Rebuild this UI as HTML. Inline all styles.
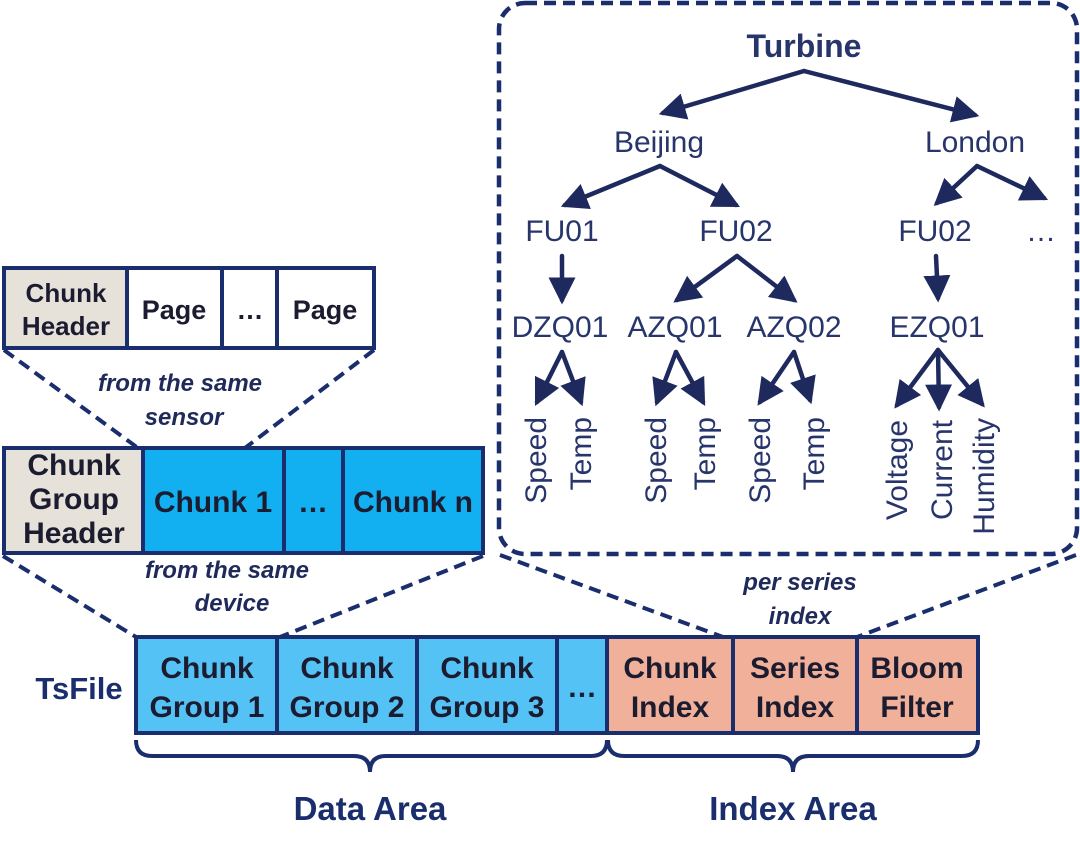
<!DOCTYPE html>
<html><head><meta charset="utf-8"><style>
html,body{margin:0;padding:0;background:#fff;}
svg{display:block;}
</style></head><body>
<svg width="1080" height="852" viewBox="0 0 1080 852" xmlns="http://www.w3.org/2000/svg">
<defs>
<marker id="ah" markerWidth="6" markerHeight="6" refX="5" refY="3" orient="auto" markerUnits="strokeWidth">
<path d="M0,0 L6,3 L0,6 Z" fill="#1e2a5e"/>
</marker>
</defs>
<g font-family="Liberation Sans, Arial, sans-serif">
<rect x="499" y="3" width="578" height="551" rx="26" fill="none" stroke="#1a2e6e" stroke-width="4.5" stroke-dasharray="12,7"/>

<g stroke="#1a2e6e" stroke-width="4" stroke-dasharray="12,7" fill="none">
<line x1="4" y1="350" x2="138" y2="448"/>
<line x1="374" y1="350" x2="245" y2="448"/>
<line x1="3" y1="556" x2="136" y2="637"/>
<line x1="483" y1="556" x2="280" y2="637"/>
<line x1="500" y1="555" x2="723" y2="637"/>
<line x1="1076" y1="555" x2="857" y2="637"/>
</g>

<g stroke="#1a2e6e" stroke-width="4">
<rect x="4" y="268" width="123" height="80" fill="#e6e2da"/>
<rect x="127" y="268" width="95" height="80" fill="#fff"/>
<rect x="222" y="268" width="55" height="80" fill="#fff"/>
<rect x="277" y="268" width="97" height="80" fill="#fff"/>
</g>
<g font-weight="bold" fill="#1c1c30" text-anchor="middle">
<text x="66" y="302" font-size="26">Chunk</text>
<text x="66" y="335" font-size="26">Header</text>
<text x="174" y="319" font-size="27">Page</text>
<text x="250" y="319" font-size="27">…</text>
<text x="325" y="319" font-size="27">Page</text>
</g>

<g stroke="#1a2e6e" stroke-width="4">
<rect x="4" y="448" width="139" height="105" fill="#e6e2da"/>
<rect x="143" y="448" width="141" height="105" fill="#12b0f0"/>
<rect x="284" y="448" width="59" height="105" fill="#12b0f0"/>
<rect x="343" y="448" width="140" height="105" fill="#12b0f0"/>
</g>
<g font-weight="bold" fill="#1c1c30" text-anchor="middle" font-size="30">
<text x="74" y="475">Chunk</text>
<text x="74" y="509">Group</text>
<text x="74" y="543">Header</text>
<text x="213" y="512">Chunk 1</text>
<text x="313" y="512">…</text>
<text x="413" y="512">Chunk n</text>
</g>

<g font-weight="bold" font-style="italic" fill="#1f2a5a" text-anchor="middle" font-size="24">
<text x="180" y="391">from the same</text>
<text x="184" y="425">sensor</text>
<text x="227" y="578">from the same</text>
<text x="232" y="611">device</text>
<text x="800" y="590">per series</text>
<text x="800" y="624">index</text>
</g>

<g stroke="#1a2e6e" stroke-width="4">
<rect x="136" y="637" width="141" height="96" fill="#55c2f5"/>
<rect x="277" y="637" width="140" height="96" fill="#55c2f5"/>
<rect x="417" y="637" width="140" height="96" fill="#55c2f5"/>
<rect x="557" y="637" width="50" height="96" fill="#55c2f5"/>
<rect x="607" y="637" width="126" height="96" fill="#f0b09a"/>
<rect x="733" y="637" width="124" height="96" fill="#f0b09a"/>
<rect x="857" y="637" width="121" height="96" fill="#f0b09a"/>
</g>
<g font-weight="bold" fill="#1c1c30" text-anchor="middle" font-size="30">
<text x="207" y="678">Chunk</text><text x="207" y="717">Group 1</text>
<text x="347" y="678">Chunk</text><text x="347" y="717">Group 2</text>
<text x="487" y="678">Chunk</text><text x="487" y="717">Group 3</text>
<text x="582" y="697">…</text>
<text x="670" y="678">Chunk</text><text x="670" y="717">Index</text>
<text x="795" y="678">Series</text><text x="795" y="717">Index</text>
<text x="917" y="678">Bloom</text><text x="917" y="717">Filter</text>
</g>
<text x="79" y="699" font-weight="bold" font-size="31" fill="#1a2e6e" text-anchor="middle">TsFile</text>

<g fill="none" stroke="#1a2e6e" stroke-width="4">
<path d="M136,740 Q136,756 152,756 L354,756 Q370,756 370,772 Q370,756 386,756 L591,756 Q607,756 607,740"/>
<path d="M608,740 Q608,756 624,756 L777,756 Q793,756 793,772 Q793,756 809,756 L962,756 Q978,756 978,740"/>
</g>
<g font-weight="bold" fill="#1a2e6e" text-anchor="middle" font-size="33">
<text x="370" y="820">Data Area</text>
<text x="793" y="820">Index Area</text>
</g>

<g fill="#27356b" text-anchor="middle" font-size="30">
<text x="804" y="57" font-weight="bold" font-size="32">Turbine</text>
<text x="659" y="152">Beijing</text>
<text x="975" y="152">London</text>
<text x="562" y="241">FU01</text>
<text x="736" y="241">FU02</text>
<text x="935" y="241">FU02</text>
<text x="1041" y="241">…</text>
<text x="560" y="337">DZQ01</text>
<text x="675" y="337">AZQ01</text>
<text x="794" y="337">AZQ02</text>
<text x="937" y="337">EZQ01</text>
</g>
<g fill="#27356b" text-anchor="end" font-size="30">
<text transform="translate(546,417) rotate(-90)">Speed</text>
<text transform="translate(591,417) rotate(-90)">Temp</text>
<text transform="translate(666,417) rotate(-90)">Speed</text>
<text transform="translate(715,417) rotate(-90)">Temp</text>
<text transform="translate(770,417) rotate(-90)">Speed</text>
<text transform="translate(824,417) rotate(-90)">Temp</text>
<text transform="translate(907,420) rotate(-90)">Voltage</text>
<text transform="translate(952,420) rotate(-90)">Current</text>
<text transform="translate(994,418) rotate(-90)">Humidity</text>
</g>
<g stroke="#1e2a5e" stroke-width="4.5" fill="none" marker-end="url(#ah)" stroke-linecap="round">
<path d="M804,71 L663,113"/>
<path d="M804,71 L975,115"/>
<path d="M660,166 L565,205"/>
<path d="M660,166 L736,205"/>
<path d="M977,166 L937,203"/>
<path d="M977,166 L1044,198"/>
<path d="M562,256 L562,300"/>
<path d="M737,256 L677,300"/>
<path d="M737,256 L794,300"/>
<path d="M936,256 L938,298"/>
<path d="M562,352 L537,402"/>
<path d="M562,352 L581,402"/>
<path d="M676,352 L657,402"/>
<path d="M676,352 L703,402"/>
<path d="M794,352 L760,402"/>
<path d="M794,352 L810,400"/>
<path d="M938,350 L897,405"/>
<path d="M938,350 L939,407"/>
<path d="M938,350 L982,404"/>
</g>
</g>
</svg>
</body></html>
